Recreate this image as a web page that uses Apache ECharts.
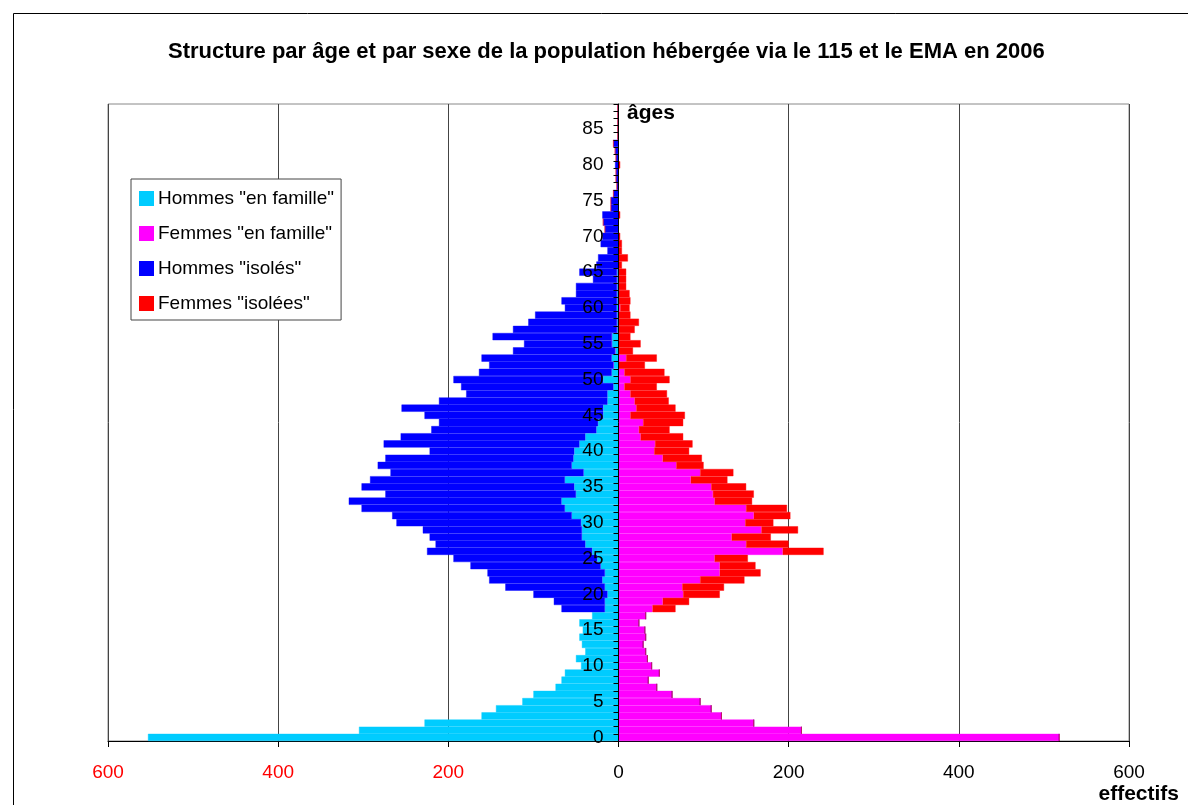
<!DOCTYPE html>
<html><head><meta charset="utf-8">
<script src="https://cdn.jsdelivr.net/npm/echarts@6/dist/echarts.min.js"></script>
<style>html,body{margin:0;padding:0;background:#fff}#c{width:1188px;height:805px}</style>
</head><body><div id="c"></div>
<script>
const titleText = 'Structure par âge et par sexe de la population hébergée via le 115 et le EMA en 2006';
const seriesNames = ['Hommes "en famille"', 'Femmes "en famille"', 'Hommes "isolés"', 'Femmes "isolées"'];
const ages = [0,1,2,3,4,5,6,7,8,9,10,11,12,13,14,15,16,17,18,19,20,21,22,23,24,25,26,27,28,29,
  30,31,32,33,34,35,36,37,38,39,40,41,42,43,44,45,46,47,48,49,50,51,52,53,54,55,56,57,58,59,
  60,61,62,63,64,65,66,67,68,69,70,71,72,73,74,75,76,77,78,79,80,81,82,83,84,85,86,87,88];
const hommesFamille = [553,305,228,161,144,113,100,74,67,63,
  44,50,39,43,46,42,46,31,16,16,
  13,16,19,16,21,25,31,39,43,43,
  44,55,63,67,50,52,63,41,55,53,
  52,46,39,26,24,18,18,13,13,6,
  18,8,6,8,4,8,8,2,2,2,
  2,2,2,2,2,2,0,0,0,0,
  0,0,0,0,0,0,0,0,0,0,
  0,0,0,0,0,0,0,0,0];
const hommesIsoles = [0,0,0,0,0,0,0,0,0,0,
  0,0,0,0,0,0,0,0,51,60,
  87,117,133,138,153,169,194,176,179,187,
  217,211,239,250,224,250,229,227,228,221,
  170,230,217,194,187,210,237,198,166,179,
  176,156,146,153,120,103,140,122,104,96,
  61,65,48,48,28,44,26,24,13,21,
  19,16,18,19,9,9,6,2,3,3,
  4,3,4,6,1,1,1,1,1];
const femmesFamille = [518,215,159,121,109,96,63,45,35,48,
  39,34,32,29,32,31,24,32,40,52,
  76,75,96,119,119,113,193,150,133,168,
  149,159,150,113,111,109,85,96,68,52,
  42,43,26,24,29,14,21,19,14,7,
  14,7,0,9,0,0,0,0,0,0,
  2,0,0,0,0,0,0,0,0,0,
  0,0,0,0,0,0,0,0,0,0,
  0,0,0,0,0,0,0,0,0];
const femmesIsolees = [0,0,0,0,0,0,0,0,0,0,
  0,0,0,0,0,0,0,0,27,31,
  43,49,52,48,42,39,48,50,46,43,
  33,43,48,44,48,41,43,39,32,46,
  41,44,50,36,47,64,46,40,43,38,
  46,47,31,36,17,26,14,19,24,14,
  11,14,13,9,9,9,4,11,4,4,
  2,0,0,2,0,0,0,0,0,0,
  2,0,0,0,0,0,0,0,0];
const colors = ['#00CCFF', '#FF00FF', '#0000FF', '#FF0000'];
const FONT = '"Liberation Sans", Arial, sans-serif';

const GRID = {left: 108, right: 59, top: 104, bottom: 64};
const chartW = 1188;
// y axis sits at the value 0, i.e. the middle of the symmetric x range
const yAxisOffset = -((chartW - GRID.left - GRID.right) / 2);

const chart = echarts.init(document.getElementById('c'), null, {renderer: 'canvas'});
const neg = arr => arr.map(v => -v);
const mk = (name, data, color) => ({
  name, type: 'bar', stack: 'pyr', data, barCategoryGap: '0%',
  itemStyle: {color, borderColor: color, borderWidth: 0.4},
  emphasis: {disabled: true}
});
chart.setOption({
  animation: false,
  backgroundColor: '#fff',
  textStyle: {fontFamily: FONT},
  title: {
    text: titleText, left: 168, top: 41, padding: 0,
    textStyle: {fontSize: 22, fontWeight: 'bold', fontFamily: FONT, color: '#000'}
  },
  legend: {
    orient: 'vertical', left: 131, top: 179,
    itemWidth: 13, itemHeight: 13, itemGap: 16,
    padding: [10, 7, 7, 8],
    borderColor: '#444', borderWidth: 1, backgroundColor: '#fff',
    icon: 'rect', selectedMode: false,
    textStyle: {fontSize: 19, fontFamily: FONT, color: '#000'},
    data: seriesNames
  },
  grid: Object.assign({show: true, borderColor: '#888', borderWidth: 1}, GRID),
  xAxis: {
    type: 'value', min: -600, max: 600, interval: 200,
    axisLine: {show: true, onZero: false, lineStyle: {color: '#000'}},
    axisTick: {show: true, length: 6, lineStyle: {color: '#000'}},
    axisLabel: {
      fontSize: 19, fontFamily: FONT, color: '#000', margin: 22,
      formatter: v => v < 0 ? '{r|' + (-v) + '}' : String(v),
      rich: {r: {color: '#FF0000', fontSize: 19, fontFamily: FONT}}
    },
    splitLine: {show: true, lineStyle: {color: '#444', width: 1}}
  },
  yAxis: {
    type: 'category', data: ages, z: 10, position: 'left', offset: yAxisOffset,
    axisLine: {show: true, onZero: false, lineStyle: {color: '#000', width: 1}},
    axisTick: {show: true, interval: 0, length: 5, lineStyle: {color: '#000'}},
    axisLabel: {interval: 4, fontSize: 19, fontFamily: FONT, color: '#000', margin: 15},
    splitLine: {show: false}
  },
  series: [
    mk(seriesNames[0], neg(hommesFamille), colors[0]),
    mk(seriesNames[1], femmesFamille, colors[1]),
    mk(seriesNames[2], neg(hommesIsoles), colors[2]),
    mk(seriesNames[3], femmesIsolees, colors[3])
  ],
  graphic: [
    {type: 'rect', silent: true, z: 100, shape: {x: 13.5, y: 13.5, width: 1300, height: 900},
      style: {fill: null, stroke: '#000', lineWidth: 1}},
    {type: 'text', silent: true, left: 627, top: 103, z: 100,
      style: {text: 'âges', font: 'bold 21px ' + FONT, fill: '#000'}},
    {type: 'text', silent: true, right: 9, top: 784, z: 100,
      style: {text: 'effectifs', font: 'bold 21px ' + FONT, fill: '#000'}}
  ]
});
</script>
</body></html>
